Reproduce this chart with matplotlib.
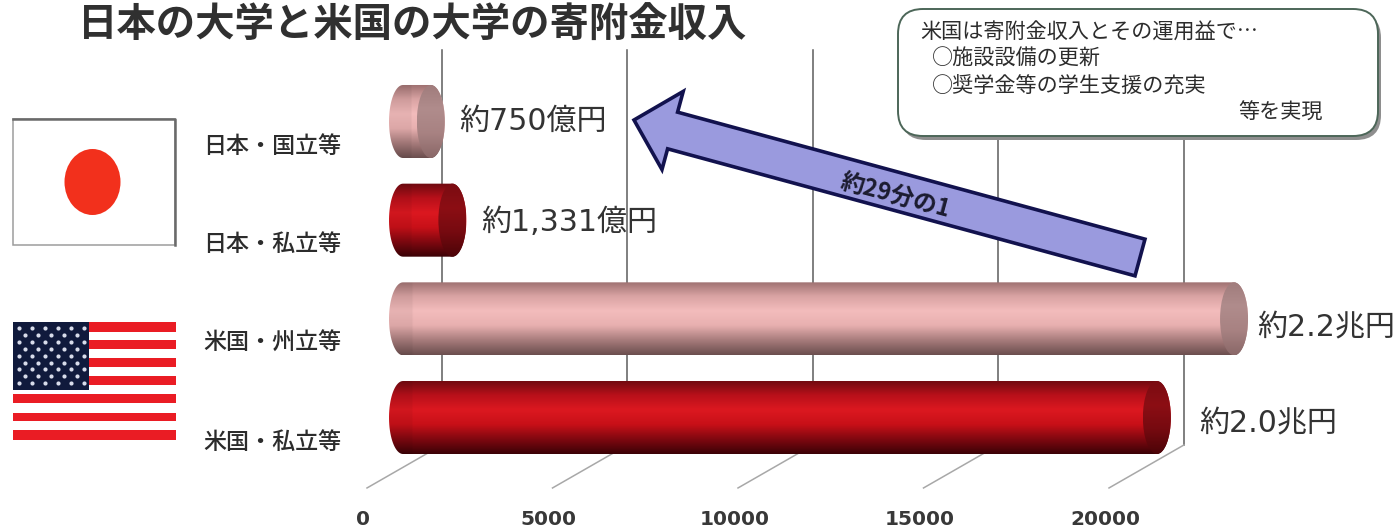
"""
Endowment income chart: Japanese vs US universities.
"""

import numpy as np
import matplotlib
matplotlib.use('Agg')
import matplotlib.pyplot as plt
import matplotlib.colors as mcolors
import matplotlib.patches as mpatches
from matplotlib.path import Path

plt.rcParams['font.family'] = ['Noto Sans CJK JP', 'DejaVu Sans']

# Data
categories = ['日本・国立等', '日本・私立等', '米国・州立等', '米国・私立等']
values = [750, 1331, 22400, 20320]
value_labels = ['約750億円', '約1,331億円', '約2.2兆円', '約2.0兆円']
x_ticks = [0, 5000, 10000, 15000, 20000]

PINK = ['#9c6f6f', '#d9a3a3', '#f3bcbc', '#e8b0b0', '#a87c7c', '#6c4f4f']
RED = ['#6e0a10', '#b8101a', '#dc1820', '#c81018', '#800810', '#3c0206']
PINK_CAP = ['#a07c7c', '#b08c8c', '#a88282', '#8a6868']
RED_CAP = ['#7a0c12', '#8c0e14', '#760a10', '#4c0408']
bar_colors = [PINK, RED, PINK, RED]
cap_colors = [PINK_CAP, RED_CAP, PINK_CAP, RED_CAP]

W, H = 1399, 528
X0_PX, PX_PER_UNIT = 403.0, 0.0371
Y0_PX, PX_PER_CAT = 121.5, 98.67
CAP_W = 377     # cylinder end radius along the value axis
BAR_H = 0.37    # half a cylinder height
BACK = 1051     # depth offset of the back wall
FRONT = -970    # depth offset of the front edge of the floor
GRID_TOP, FLOOR_BACK, FLOOR_FRONT, TICK_Y = -0.725, 3.278, 3.714, 4.03


def gradient(stops, n=80):
    rgb = np.array([mcolors.to_rgb(c) for c in stops])
    pos = np.linspace(0, 1, len(stops))
    t = np.linspace(0, 1, n)
    return np.stack([np.interp(t, pos, rgb[:, k]) for k in range(3)], axis=1)


def draw_cylinder(ax, y, value, stops, cap_stops):
    t = np.linspace(np.pi / 2, 3 * np.pi / 2, 40)
    left = np.column_stack([CAP_W * np.cos(t), y + BAR_H * np.sin(t)])
    right = np.column_stack([value - CAP_W * np.cos(t), y - BAR_H * np.sin(t)])
    patch = mpatches.PathPatch(Path(np.vstack([left, right, left[:1]]), closed=True),
                               facecolor='none', edgecolor='none', zorder=3)
    ax.add_patch(patch)
    xs = np.linspace(-CAP_W, value + CAP_W, 400)
    shade = np.where(xs < CAP_W * 0.6, 0.95, 1.0)
    img = gradient(stops)[:, None, :] * shade[None, :, None]
    im = ax.imshow(img, extent=(-CAP_W, value + CAP_W, y + BAR_H, y - BAR_H),
                   aspect='auto', origin='upper', interpolation='bilinear', zorder=3)
    im.set_clip_path(patch)

    cap = mpatches.Ellipse((value, y), 2 * CAP_W, 2 * BAR_H, facecolor='none',
                           edgecolor='none', zorder=4)
    ax.add_patch(cap)
    im2 = ax.imshow(gradient(cap_stops)[:, None, :],
                    extent=(value - CAP_W, value + CAP_W, y + BAR_H, y - BAR_H),
                    aspect='auto', origin='upper', interpolation='bilinear', zorder=4)
    im2.set_clip_path(cap)


fig = plt.figure(figsize=(W / 100, H / 100), dpi=100)

# Chart axes, full figure, value scale on x and category position on y
ax = fig.add_axes([0, 0, 1, 1])
ax.axis('off')

for v in x_ticks:
    ax.plot([v + BACK, v + BACK], [GRID_TOP, FLOOR_BACK], color='#5c5c5c', lw=1.1, zorder=1)
    ax.plot([v + BACK, v + FRONT], [FLOOR_BACK, FLOOR_FRONT], color='#a8a8a8', lw=1.1, zorder=1)
    ax.text(v - 1070, TICK_Y, str(v), ha='center', va='center', fontsize=14.5,
            fontweight='bold', color='#383838', family='DejaVu Sans')

for i, v in enumerate(values):
    draw_cylinder(ax, i, v, bar_colors[i], cap_colors[i])

label_x_offsets = [760, 771, 620, 1133]
label_y_offsets = [0.0, 0.02, 0.09, 0.07]
for i, (v, lab) in enumerate(zip(values, value_labels)):
    ax.text(v + label_x_offsets[i], i + label_y_offsets[i], lab, ha='left', va='center',
            fontsize=21.6, color='#333333', family=['DejaVu Sans', 'Noto Sans CJK JP'])

ax.set_xlim(-X0_PX / PX_PER_UNIT, (W - X0_PX) / PX_PER_UNIT)
ax.set_ylim((H - Y0_PX) / PX_PER_CAT, -Y0_PX / PX_PER_CAT)

# Overlay in pixel units for the decorations
ov = fig.add_axes([0, 0, 1, 1])
ov.set_xlim(0, W)
ov.set_ylim(H, 0)
ov.axis('off')
ov.patch.set_alpha(0)

ov.text(78, 25, '日本の大学と米国の大学の寄附金収入', ha='left', va='center',
        fontsize=28.4, fontweight='bold', color='#303030')

for i, cat in enumerate(categories):
    ov.text(203, 146 + i * 98.7, cat, ha='left', va='center', fontsize=16.6,
            fontweight='medium', color='#2c2c2c')

# Japanese flag
ov.add_patch(mpatches.Rectangle((13, 119), 162, 126, facecolor='white', edgecolor='#9c9c9c', lw=1.1))
ov.plot([13, 175, 175], [119, 119, 245], color='#6a6a6a', lw=1.8)
ov.add_patch(mpatches.Ellipse((92.5, 182), 56, 66, facecolor='#f2301c', edgecolor='none'))

# US flag
for top, bottom in [(322, 332), (340, 349), (358, 367), (376, 385), (394, 403), (413, 421), (430, 440)]:
    ov.add_patch(mpatches.Rectangle((13, top), 163, bottom - top, facecolor='#ea1c24', edgecolor='none'))
ov.add_patch(mpatches.Rectangle((13, 322), 76, 68, facecolor='#101a3c', edgecolor='none'))
for row in range(9):
    n = 6 if row % 2 == 0 else 5
    start = 18.5 if row % 2 == 0 else 25
    ov.scatter([start + 13 * k for k in range(n)], [328 + row * 6.9] * n, s=9, color='#d8dcea', lw=0)

# Callout box
ov.add_patch(mpatches.FancyBboxPatch((926, 38), 430, 77, boxstyle='round,pad=25',
                                     facecolor='#8e8e8e', edgecolor='none', zorder=5))
ov.add_patch(mpatches.FancyBboxPatch((923, 34), 430, 77, boxstyle='round,pad=25',
                                     facecolor='white', edgecolor='#4c6658', lw=1.4, zorder=6))
box_lines = [(920, 33, '米国は寄附金収入とその運用益で…'), (932, 59, '○施設設備の更新'),
             (932, 86, '○奨学金等の学生支援の充実'), (1238, 113, '等を実現')]
for x, y, s in box_lines:
    ov.text(x, y, s, ha='left', va='center', fontsize=15.2, color='#2c2c2c', zorder=7)

# Arrow
ov.add_patch(mpatches.FancyArrow(1140, 257.5, -506, -137.5, width=38, head_width=81, head_length=40,
                                 length_includes_head=True, facecolor='#9a9ade', edgecolor='#12124e',
                                 lw=2.6, zorder=4))
ov.text(895, 196, '約29分の1', ha='center', va='center', rotation=-15, rotation_mode='anchor',
        fontsize=17, fontweight='bold', color='#1c1c30', zorder=5)

plt.savefig('out.png', dpi=100)
plt.close('all')
